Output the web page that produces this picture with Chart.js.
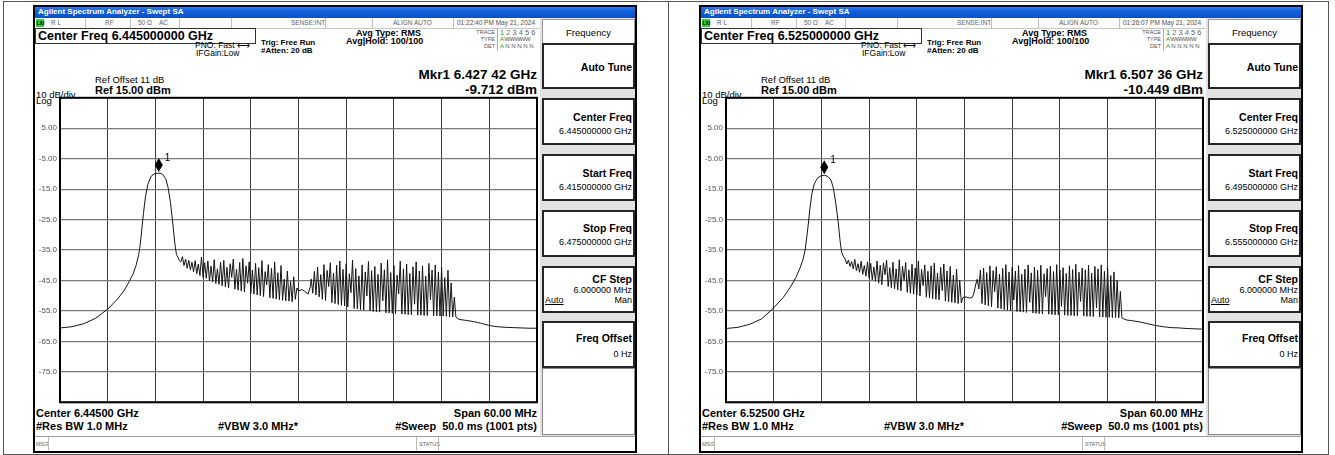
<!DOCTYPE html>
<html>
<head>
<meta charset="utf-8">
<script src="https://cdn.jsdelivr.net/npm/chart.js@4.4.1/dist/chart.umd.min.js"></script>
<style>
  body { margin: 0; width: 1335px; height: 455px; background: #fff; position: relative; overflow: hidden; }
  .outer { position: absolute; left: 3px; top: 1px; width: 1326px; height: 454px; border: 1px solid #555; box-sizing: border-box; }
  .mid { position: absolute; left: 668px; top: 1px; width: 1px; height: 454px; background: #555; }
  .scr { position: absolute; top: 5px; width: 604px; height: 448px; background: #fff; overflow: hidden; }
  .scr .edge { position: absolute; left: 0; top: 0; right: 0; bottom: 0; border: 2px solid #000; pointer-events: none; }
  .t { position: absolute; white-space: pre; font-family: 'Liberation Sans', Arial, sans-serif; color: #000; }
  .b { font-weight: bold; }
  .title { position: absolute; left: 0; top: 0; width: 604px; height: 13px;
           background: linear-gradient(#3d8cf7, #1360dc 45%, #0b50c8); }
  .status { position: absolute; left: 0; top: 13px; width: 509px; height: 10px; background: #fbfbfb; border-bottom: 1px solid #c8c8c8; }
  .sep { position: absolute; top: 13px; width: 1px; height: 10px; background: #c0c0c0; }
  .pbg { position: absolute; left: 507px; top: 13px; width: 97px; height: 418px; background: #e2e2e2; }
  .btn { position: absolute; left: 509px; width: 93px; background: #fff; border: 2px solid #262626; box-sizing: border-box; }
  .msg { position: absolute; left: 0; top: 431px; width: 604px; height: 17px; background: #fff; border-top: 1px solid #a0a0a0; }
  canvas { position: absolute; }
</style>
</head>
<body>
<div class="outer"></div>
<div class="mid"></div>
<div id="root"></div>
<script>
// --- values ---
// trace points: [offset from start frequency in MHz, level in dBm]
const leftTrace = [
  [0, -60.6], [1.5, -60.2], [3, -59.2], [4.5, -57.4], [6, -54.4], [7.2, -51.2], [8.1, -48.2], [8.7, -45.4],
  [9.2, -42.8], [9.6, -39.8], [9.9, -36.5], [10.1, -33], [10.3, -28], [10.5, -23], [10.75, -17.5], [11.05, -13.5],
  [11.45, -10.8], [11.9, -9.95], [12.42, -9.712], [12.9, -10.1], [13.3, -11.6], [13.6, -14.5], [13.9, -19.5],
  [14.2, -26.5], [14.45, -33], [14.65, -36.5], [14.85, -37.5], [15.0, -38.4],
  [15.2, -39.0], [15.4, -37.2], [15.6, -40.1], [15.8, -38.0], [16.0, -41.0], [16.2, -38.4], [16.4, -41.5], [16.6, -39.0],
  [16.8, -42.2], [17.0, -38.5], [17.2, -42.8], [17.4, -39.6], [17.6, -43.4], [17.8, -37.3], [18.0, -44.0], [18.2, -39.2],
  [18.4, -44.3], [18.6, -38.6], [18.8, -45.1], [19.0, -40.3], [19.2, -45.5], [19.4, -38.2], [19.6, -46.0], [19.8, -41.2],
  [20.0, -46.3], [20.2, -39.0], [20.4, -46.8], [20.6, -38.4], [20.8, -47.1], [21.0, -40.7], [21.2, -47.5], [21.4, -39.5],
  [21.6, -44.0], [21.8, -38.0], [22.0, -47.9], [22.2, -41.3], [22.4, -48.2], [22.6, -39.1], [22.8, -48.5], [23.0, -37.8],
  [23.2, -48.8], [23.4, -40.2], [23.6, -45.9], [23.8, -38.9], [24.0, -49.3], [24.2, -41.6], [24.4, -49.5], [24.6, -39.4],
  [24.8, -49.8], [25.0, -40.8], [25.2, -50.0], [25.4, -38.5], [25.6, -50.3], [25.8, -42.1], [26.0, -46.4], [26.2, -39.8],
  [26.4, -50.7], [26.6, -41.0], [26.8, -50.9], [27.0, -38.9], [27.2, -51.1], [27.4, -42.5], [27.6, -51.3], [27.8, -40.1],
  [28.0, -51.5], [28.2, -44.6], [28.4, -51.7], [28.6, -41.9], [28.8, -51.8], [29.0, -45.3], [29.2, -52.0], [29.4, -43.8],
  [29.6, -51.2], [29.8, -47.5],
  [30.0, -48.5], [30.4, -48.0], [30.8, -48.6], [31.2, -49.5], [31.5, -47.0],
  [31.6, -44.5], [31.8, -49.2], [32.0, -42.0], [32.2, -49.8], [32.4, -40.6], [32.6, -50.4], [32.8, -43.1], [33.0, -51.2],
  [33.2, -39.8], [33.4, -51.6], [33.6, -41.7], [33.8, -47.0], [34.0, -39.2], [34.2, -52.3], [34.4, -42.6], [34.6, -52.6],
  [34.8, -40.0], [35.0, -52.9], [35.2, -38.6], [35.4, -53.2], [35.6, -41.4], [35.8, -53.4], [36.0, -39.5], [36.2, -53.7],
  [36.4, -42.8], [36.6, -49.0], [36.8, -38.3], [37.0, -54.2], [37.2, -41.1], [37.4, -54.4], [37.6, -43.5], [37.8, -54.6],
  [38.0, -39.9], [38.2, -54.8], [38.4, -42.2], [38.6, -50.1], [38.8, -38.8], [39.0, -55.0], [39.2, -41.8], [39.4, -55.2],
  [39.6, -40.4], [39.8, -55.3], [40.0, -43.0], [40.2, -55.4], [40.4, -39.3], [40.6, -51.7], [40.8, -41.5], [41.0, -55.6],
  [41.2, -38.2], [41.4, -55.7], [41.6, -42.4], [41.8, -55.8], [42.0, -40.1], [42.2, -55.9], [42.4, -43.3], [42.6, -49.4],
  [42.8, -38.7], [43.0, -56.0], [43.2, -41.2], [43.4, -56.1], [43.6, -39.6], [43.8, -56.2], [44.0, -42.7], [44.2, -56.3],
  [44.4, -40.5], [44.6, -52.8], [44.8, -38.9], [45.0, -56.4], [45.2, -41.9], [45.4, -56.4], [45.6, -40.2], [45.8, -56.5],
  [46.0, -43.6], [46.2, -56.5], [46.4, -39.4], [46.6, -51.3], [46.8, -41.6], [47.0, -56.6], [47.2, -39.9], [47.4, -56.6],
  [47.6, -42.3], [47.8, -56.7], [48.0, -40.8], [48.2, -56.7], [48.4, -44.1], [48.6, -56.8], [48.8, -41.7], [49.0, -56.9],
  [49.2, -45.8], [49.4, -57.0], [49.6, -50.5],
  [49.8, -57.1], [50.2, -57.8], [51, -58.1], [52, -58.5], [53, -59.1], [54, -59.8], [55, -60.2], [56, -60.4],
  [57, -60.5], [58, -60.6], [59, -60.7], [60, -60.7]
];

const rightTrace = [
  [0, -60.8], [1.5, -60.4], [3, -59.4], [4.5, -57.6], [6, -54.0], [7.2, -50.6], [8.1, -47.2], [8.8, -44.0],
  [9.3, -41.0], [9.7, -38.0], [9.95, -35.0], [10.15, -31], [10.35, -26.5], [10.55, -21.5], [10.8, -16.5], [11.1, -13.3],
  [11.5, -11.4], [11.9, -10.7], [12.36, -10.449], [12.8, -10.8], [13.2, -12.0], [13.5, -14.6], [13.8, -19.5],
  [14.1, -25.5], [14.35, -32], [14.55, -35.8], [14.75, -37.0],
  [15.0, -38.0], [15.2, -39.6], [15.4, -38.3], [15.6, -40.4], [15.8, -38.8], [16.0, -41.2], [16.2, -38.1], [16.4, -41.8],
  [16.6, -39.5], [16.8, -42.3], [17.0, -38.7], [17.2, -43.0], [17.4, -40.1], [17.6, -43.6], [17.8, -38.9], [18.0, -44.2],
  [18.2, -39.4], [18.4, -44.8], [18.6, -40.6], [18.8, -45.3], [19.0, -38.6], [19.2, -45.9], [19.4, -40.0], [19.6, -46.4],
  [19.8, -39.2], [20.0, -43.1], [20.2, -38.4], [20.4, -47.0], [20.6, -40.8], [20.8, -47.4], [21.0, -39.0], [21.2, -47.8],
  [21.4, -41.2], [21.6, -48.1], [21.8, -38.2], [22.0, -48.4], [22.2, -40.3], [22.4, -45.0], [22.6, -39.1], [22.8, -48.9],
  [23.0, -41.5], [23.2, -49.2], [23.4, -39.7], [23.6, -49.5], [23.8, -40.9], [24.0, -49.8], [24.2, -38.6], [24.4, -50.1],
  [24.6, -41.4], [24.8, -46.7], [25.0, -39.9], [25.2, -50.5], [25.4, -42.0], [25.6, -50.7], [25.8, -40.2], [26.0, -51.0],
  [26.2, -39.3], [26.4, -51.2], [26.6, -42.6], [26.8, -51.4], [27.0, -40.7], [27.2, -48.3], [27.4, -39.6], [27.6, -51.8],
  [27.8, -41.9], [28.0, -52.0], [28.2, -40.4], [28.4, -52.2], [28.6, -43.2], [28.8, -52.4], [29.0, -41.3], [29.2, -52.6],
  [29.4, -44.9],
  [29.6, -52.4], [29.8, -50.6], [30.2, -50.4], [30.6, -50.8], [31.0, -50.5], [31.2, -49.0], [31.4, -46.5], [31.6, -44.6],
  [31.8, -47.8], [32.0, -41.6], [32.2, -52.6], [32.4, -40.9], [32.6, -53.0], [32.8, -42.4], [33.0, -53.3], [33.2, -40.2],
  [33.4, -53.6], [33.6, -41.8], [33.8, -48.7], [34.0, -40.5], [34.2, -54.1], [34.4, -42.9], [34.6, -54.3], [34.8, -41.0],
  [35.0, -54.6], [35.2, -39.8], [35.4, -54.8], [35.6, -42.2], [35.8, -55.0], [36.0, -40.7], [36.2, -51.4], [36.4, -41.9],
  [36.6, -55.2], [36.8, -40.1], [37.0, -55.3], [37.2, -43.0], [37.4, -55.4], [37.6, -41.3], [37.8, -55.5], [38.0, -39.9],
  [38.2, -52.2], [38.4, -42.5], [38.6, -55.7], [38.8, -40.6], [39.0, -55.8], [39.2, -41.7], [39.4, -55.9], [39.6, -40.0],
  [39.8, -56.0], [40.0, -42.8], [40.2, -50.3], [40.4, -41.1], [40.6, -56.1], [40.8, -40.3], [41.0, -56.2], [41.2, -42.1],
  [41.4, -56.3], [41.6, -39.8], [41.8, -56.3], [42.0, -41.6], [42.2, -53.5], [42.4, -40.8], [42.6, -56.4], [42.8, -42.7],
  [43.0, -56.5], [43.2, -40.2], [43.4, -56.5], [43.6, -41.4], [43.8, -56.6], [44.0, -39.7], [44.2, -56.6], [44.4, -42.3],
  [44.6, -51.9], [44.8, -40.9], [45.0, -56.7], [45.2, -41.5], [45.4, -56.8], [45.6, -40.0], [45.8, -56.8], [46.0, -42.6],
  [46.2, -56.9], [46.4, -40.4], [46.6, -54.0], [46.8, -41.2], [47.0, -57.0], [47.2, -39.9], [47.4, -57.0], [47.6, -42.0],
  [47.8, -57.1], [48.0, -40.7], [48.2, -57.1], [48.4, -43.4], [48.6, -57.2], [48.8, -42.2], [49.0, -57.2], [49.2, -45.0],
  [49.4, -57.3], [49.6, -48.6], [49.8, -57.3],
  [50.0, -57.6], [50.4, -58.0], [51, -58.2], [52, -58.6], [53, -59.2], [54, -59.8], [55, -60.2], [56, -60.5],
  [57, -60.6], [58, -60.8], [59, -60.9], [60, -61.0]
];

// marker 1: [offset MHz, level dBm]
const leftMarker = [12.42, -9.712];
const rightMarker = [12.36, -10.449];

// screen scale: ref level 15 dBm, 10 dB/div, 10 div, 60 MHz span
const refLevel = 15;
const dbPerDiv = 10;
const spanMHz = 60;
const yTickValues = [5, -5, -15, -25, -35, -45, -55, -65, -75];
const yTickLabels = ['5.00', '-5.00', '-15.0', '-25.0', '-35.0', '-45.0', '-55.0', '-65.0', '-75.0'];

const screens = [
  { left: 33, time: '01:22:40 PM May 21, 2024', center: '6.445000000 GHz', centerShort: '6.44500 GHz',
    start: '6.415000000 GHz', stop: '6.475000000 GHz', mkrFreq: '6.427 42 GHz', mkrLevel: '-9.712 dBm',
    trace: leftTrace, marker: leftMarker },
  { left: 699, time: '01:26:07 PM May 21, 2024', center: '6.525000000 GHz', centerShort: '6.52500 GHz',
    start: '6.495000000 GHz', stop: '6.555000000 GHz', mkrFreq: '6.507 36 GHz', mkrLevel: '-10.449 dBm',
    trace: rightTrace, marker: rightMarker }
];

// text helper: cy = vertical centre; o.r -> x is the right edge; o.b bold; o.st extra css
function t(x, cy, s, size, o) {
  o = o || {};
  const h = Math.round(size * 1.2);
  const pos = o.r ? 'right:' + (604 - x) + 'px;' : 'left:' + x + 'px;';
  return '<div class="t' + (o.b ? ' b' : '') + '" style="' + pos + 'top:' + (cy - h / 2) + 'px;font-size:' + size +
    'px;line-height:' + h + 'px;' + (o.st || '') + '">' + s + '</div>';
}
function box(l, tp, w, h, css) {
  return '<div style="position:absolute;left:' + l + 'px;top:' + tp + 'px;width:' + w + 'px;height:' + h + 'px;' + css + '"></div>';
}
function sep(x) { return '<div class="sep" style="left:' + x + 'px"></div>'; }
function btn(top, h, inner) {
  return '<div class="btn" style="top:' + top + 'px;height:' + h + 'px"></div>' + inner;
}

function buildScreen(s, idx) {
  const gray = { st: 'color:#666' };
  let h = '';
  h += '<div class="title"></div>';
  h += t(5, 6.5, 'Agilent Spectrum Analyzer - Swept SA', 8, { b: true, st: 'color:#fff' });
  h += '<div class="status"></div>';
  h += box(3, 14, 8, 8, 'background:#33cc33');
  h += t(3.5, 18, 'LXI', 5, { b: true });
  h += t(18, 18, 'R L', 6.5, gray);
  h += sep(52) + t(72, 18, 'RF', 6.5, gray);
  h += sep(97) + t(105, 18, '50 Ω', 6.5, gray) + t(126, 18, 'AC', 6.5, gray);
  h += sep(146) + sep(198) + t(258, 18, 'SENSE:INT', 6.5, gray) + sep(292);
  h += sep(339) + t(360, 18, 'ALIGN AUTO', 6.5, gray) + sep(420);
  h += t(424, 18, s.time, 6.5, { st: 'color:#555' });

  h += box(2, 23, 221, 16, 'border:1px solid #333;box-sizing:border-box');
  h += t(5, 31, 'Center Freq ' + s.center, 12.5, { b: true });
  h += t(162, 40, 'PNO: Fast ⟷', 8.5) + t(163, 47.5, 'IFGain:Low', 8.5);
  h += t(228, 37.5, 'Trig: Free Run', 8, { b: true }) + t(228, 45.5, '#Atten: 20 dB', 8, { b: true });
  h += t(323, 28, 'Avg Type: RMS', 9, { b: true }) + t(313, 36.5, 'Avg|Hold: 100/100', 9, { b: true });
  h += t(462, 27, 'TRACE', 5.5, { r: true, st: 'color:#555' }) + t(462, 34.5, 'TYPE', 5.5, { r: true, st: 'color:#555' }) +
       t(462, 41.5, 'DET', 5.5, { r: true, st: 'color:#555' });
  h += box(464, 23, 1, 23, 'background:#9ab89a');
  h += t(467, 27.5, '<span style="color:#1a9a1a">1</span> 2 3 4 5 6', 7.5, gray);
  h += t(467, 34.5, '<span style="color:#1a9a1a">A</span> WWWWW', 6, { st: 'color:#555;letter-spacing:-0.5px' });
  h += t(467, 41.5, '<span style="color:#1a9a1a">A</span> N N N N N', 6, { st: 'color:#555' });

  h += t(504, 70, 'Mkr1 ' + s.mkrFreq, 13.5, { b: true, r: true });
  h += t(504, 84.5, s.mkrLevel, 13.5, { b: true, r: true });
  h += t(62, 74, 'Ref Offset 11 dB', 9.5) + t(62, 85.5, 'Ref 15.00 dBm', 11, { b: true });
  h += t(3, 89, '10 dB/div', 9.5) + t(3, 95.5, 'Log', 9.5);

  h += t(3, 408, 'Center ' + s.centerShort, 11, { b: true }) + t(3, 421, '#Res BW 1.0 MHz', 11, { b: true });
  h += t(185, 421, '#VBW 3.0 MHz*', 11, { b: true });
  h += t(504, 408, 'Span 60.00 MHz', 11, { b: true, r: true }) + t(504, 421, '#Sweep  50.0 ms (1001 pts)', 11, { b: true, r: true });

  // softkey panel
  h += '<div class="pbg"></div>';
  h += box(509, 14, 93, 25, 'background:#fff;border:1px solid #9a9a9a;box-sizing:border-box');
  h += t(509, 27, 'Frequency', 9.5, { st: 'width:93px;text-align:center' });
  h += btn(38, 46, t(599, 62, 'Auto Tune', 10.5, { b: true, r: true }));
  h += btn(93, 47, t(599, 112, 'Center Freq', 10.5, { b: true, r: true }) + t(599, 126, s.center, 9, { r: true }));
  h += btn(149, 47, t(599, 168, 'Start Freq', 10.5, { b: true, r: true }) + t(599, 182, s.start, 9, { r: true }));
  h += btn(205, 47, t(599, 223, 'Stop Freq', 10.5, { b: true, r: true }) + t(599, 237, s.stop, 9, { r: true }));
  h += btn(261, 47, t(599, 274, 'CF Step', 10.5, { b: true, r: true }) + t(599, 285, '6.000000 MHz', 9, { r: true }) +
       t(512, 295, '<u>Auto</u>', 9) + t(599, 295, 'Man', 9, { r: true }));
  h += btn(316, 47, t(599, 333, 'Freq Offset', 10.5, { b: true, r: true }) + t(599, 349, '0 Hz', 9, { r: true }));
  h += box(509, 363, 93, 67, 'background:#fff;border:1px solid #8a8a8a;box-sizing:border-box');

  h += '<div class="msg"></div>';
  h += t(3, 439, 'MSG', 5.5, gray) + box(15, 432, 1, 15, 'background:#bbb');
  h += box(383, 432, 1, 15, 'background:#bbb') + t(386, 439, 'STATUS', 5.5, gray) + box(405, 432, 1, 15, 'background:#bbb');
  h += '<canvas id="plot' + idx + '" width="507" height="320" style="left:0;top:85px;width:507px;height:320px"></canvas>';
  h += '<div class="edge"></div>';
  return h;
}

const root = document.getElementById('root');
screens.forEach(function (s, i) {
  const d = document.createElement('div');
  d.className = 'scr';
  d.style.left = s.left + 'px';
  d.innerHTML = buildScreen(s, i);
  root.appendChild(d);
});

// thick graticule frame
const framePlugin = {
  id: 'frame',
  afterDraw: function (chart) {
    const a = chart.chartArea, c = chart.ctx;
    c.save();
    c.strokeStyle = '#000';
    c.lineWidth = 2;
    c.strokeRect(a.left, a.top, a.right - a.left, a.bottom - a.top);
    c.restore();
  }
};

// marker diamond sitting on the peak, with its number
const markerPlugin = {
  id: 'mkr',
  afterDatasetsDraw: function (chart, args, opts) {
    const c = chart.ctx;
    const px = chart.scales.x.getPixelForValue(opts.at[0]);
    const py = chart.scales.y.getPixelForValue(opts.at[1]);
    c.save();
    c.fillStyle = '#000';
    c.beginPath();
    c.moveTo(px, py - 1);
    c.lineTo(px + 4, py - 8);
    c.lineTo(px, py - 15);
    c.lineTo(px - 4, py - 8);
    c.closePath();
    c.fill();
    c.font = '10px "Liberation Sans", Arial';
    c.textBaseline = 'middle';
    c.fillText('1', px + 6, py - 15);
    c.restore();
  }
};

screens.forEach(function (s, i) {
  new Chart(document.getElementById('plot' + i), {
    type: 'line',
    data: {
      datasets: [{
        data: s.trace.map(function (p) { return { x: p[0], y: p[1] }; }),
        borderColor: '#151515',
        borderWidth: 1,
        pointRadius: 0,
        tension: 0,
        fill: false
      }]
    },
    options: {
      responsive: false,
      animation: false,
      events: [],
      layout: { padding: { top: 7, right: 3, bottom: 5, left: 0 } },
      plugins: { legend: { display: false }, tooltip: { enabled: false }, mkr: { at: s.marker } },
      scales: {
        x: {
          type: 'linear', min: 0, max: spanMHz,
          ticks: { display: false, stepSize: spanMHz / 10 },
          grid: { color: '#3c3c3c', lineWidth: 1, drawTicks: false },
          border: { display: false },
          afterFit: function (sc) { sc.height = 0; }
        },
        y: {
          min: refLevel - 10 * dbPerDiv, max: refLevel,
          ticks: {
            stepSize: dbPerDiv, padding: 3, color: '#555',
            font: { family: 'Liberation Sans', size: 8 },
            callback: function (v) {
              const k = yTickValues.indexOf(v);
              return k >= 0 ? yTickLabels[k] : '';
            }
          },
          grid: { color: '#7a7a7a', lineWidth: 1.2, drawTicks: false },
          border: { display: false },
          afterFit: function (sc) { sc.width = 27; }
        }
      }
    },
    plugins: [framePlugin, markerPlugin]
  });
});
</script>
</body>
</html>
